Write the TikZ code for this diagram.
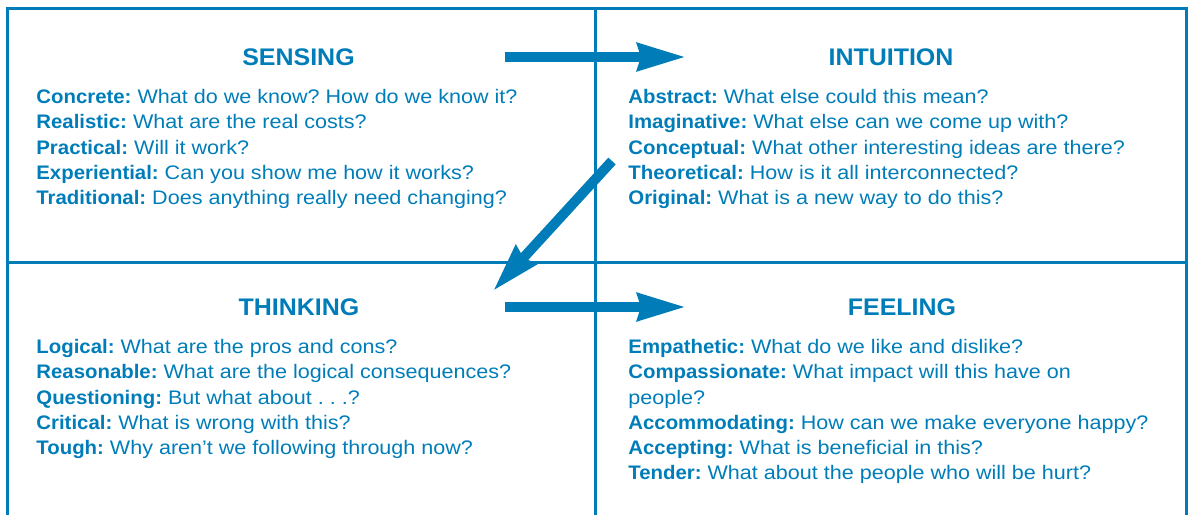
\documentclass[tikz,border=0pt]{standalone}
\usepackage{fontspec}
\setmainfont{Liberation Sans}[FakeStretch=1.1, BoldFeatures={FakeStretch=1.04}]
\usetikzlibrary{arrows.meta}
\frenchspacing

\definecolor{mbti}{RGB}{0,125,185}

\tikzset{
	grid line/.style = {draw=mbti, line width=1.5pt},
	heading/.style = {text=mbti, inner sep=0pt, font=\fontsize{12}{14}\selectfont\bfseries},
	prompts/.style = {text=mbti, anchor=north west, align=left, inner sep=0pt, font=\fontsize{9.8}{12.6}\selectfont},
	flow/.style = {draw=mbti, line width=5pt, -{Stealth[length=24pt, width=13.3pt, inset=1.5pt]}}
}
\newcommand{\lbl}[1]{\textbf{#1:}}

\begin{document}
\begin{tikzpicture}[x=0.5pt, y=-0.5pt]
				\useasboundingbox (0, 0) rectangle (1189, 515);

				% frame, open at the bottom
				\coordinate[](bl) at (7.5, 515);
				\coordinate[](tl) at (7.5, 8.5);
				\coordinate[](tr) at (1186.5, 8.5);
				\coordinate[](br) at (1186.5, 515);
				\draw[grid line] (bl)--(tl)--(tr)--(br);
				\draw[grid line] (595.5, 8.5)--(595.5, 515);
				\draw[grid line] (7.5, 262)--(1186.5, 262);

				% quadrant headings
				\node[heading](sensing) at (298.5, 57) {SENSING};
				\node[heading](intuition) at (891, 57) {INTUITION};
				\node[heading](thinking) at (299, 307) {THINKING};
				\node[heading](feeling) at (902, 307) {FEELING};

				% questions
				\node[prompts](sensingq) at (36, 89) {\lbl{Concrete} What do we know? How do we know it?\\
					\lbl{Realistic} What are the real costs?\\
					\lbl{Practical} Will it work?\\
					\lbl{Experiential} Can you show me how it works?\\
					\lbl{Traditional} Does anything really need changing?};
				\node[prompts](intuitionq) at (628, 89) {\lbl{Abstract} What else could this mean?\\
					\lbl{Imaginative} What else can we come up with?\\
					\lbl{Conceptual} What other interesting ideas are there?\\
					\lbl{Theoretical} How is it all interconnected?\\
					\lbl{Original} What is a new way to do this?};
				\node[prompts](thinkingq) at (36, 339) {\lbl{Logical} What are the pros and cons?\\
					\lbl{Reasonable} What are the logical consequences?\\
					\lbl{Questioning} But what about .\ .\ .?\\
					\lbl{Critical} What is wrong with this?\\
					\lbl{Tough} Why aren’t we following through now?};
				\node[prompts](feelingq) at (628, 339) {\lbl{Empathetic} What do we like and dislike?\\
					\lbl{Compassionate} What impact will this have on\\
					people?\\
					\lbl{Accommodating} How can we make everyone happy?\\
					\lbl{Accepting} What is beneficial in this?\\
					\lbl{Tender} What about the people who will be hurt?};

				% arrows between the quadrants
				\coordinate[](s1) at (505, 57);
				\coordinate[](s2) at (686, 57);
				\coordinate[](d1) at (612, 161);
				\coordinate[](d2) at (493, 291);
				\coordinate[](t1) at (505, 307);
				\coordinate[](t2) at (686, 307);

				\draw[flow] (s1)--(s2);
				\draw[flow] (d1)--(d2);
				\draw[flow] (t1)--(t2);
			\end{tikzpicture}
\end{document}
